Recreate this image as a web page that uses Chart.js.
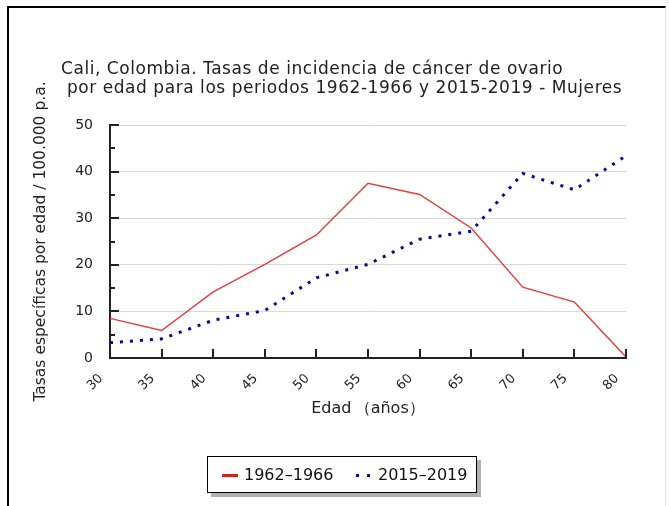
<!DOCTYPE html>
<html>
<head>
<meta charset="utf-8">
<script src="https://cdn.jsdelivr.net/npm/chart.js@4.4.1/dist/chart.umd.min.js"></script>
<style>
  html, body { margin: 0; padding: 0; background: #fff; }
  body { width: 669px; height: 506px; position: relative; overflow: hidden; font-family: "DejaVu Sans", sans-serif; }
  #frame { position: absolute; left: 7px; top: 6px; width: 656px; height: 510px;
           border-left: 2px solid #000; border-top: 2px solid #000; border-right: 1px solid #e4e4e4; }
  #wrap { position: absolute; left: 0; top: 0; width: 669px; height: 506px; }
  #title { position: absolute; left: 61px; top: 59px; font-size: 17px; letter-spacing: 0.55px; line-height: 19px; color: #222; white-space: pre; }
  #legend { position: absolute; left: 207px; top: 456px; width: 268px; height: 35px; border: 1px solid #000;
            box-shadow: 4px 4px 0 #b0b0b0; background: #fff; }
  .li { position: absolute; top: 8px; font-size: 16px; line-height: 19px; color: #111; white-space: pre; }
  .red { position: absolute; width: 16px; height: 3px; background: #d42020; }
  .dot { position: absolute; width: 3px; height: 3px; background: #0a0a8c; }
</style>
</head>
<body>
<div id="frame"></div>
<div id="wrap"><canvas id="c" width="669" height="506"></canvas></div>
<div id="title"></div>
<div id="legend"></div>
<script>
const titleLines = ["Cali, Colombia. Tasas de incidencia de cáncer de ovario", " por edad para los periodos 1962-1966 y 2015-2019 - Mujeres"];
const categories = ["30", "35", "40", "45", "50", "55", "60", "65", "70", "75", "80"];
const series1962 = [8.5, 5.9, 14.2, 20.1, 26.4, 37.5, 35.1, 27.9, 15.2, 12.0, 0.2];
const series2015 = [3.3, 4.1, 8.1, 10.2, 17.2, 20.1, 25.5, 27.2, 39.6, 36.1, 43.4];
const seriesLabels = ["1962–1966", "2015–2019"];
const yTickValues = [0, 10, 20, 30, 40, 50];
const xTitle = "Edad\u2009（años）";
const yTitle = "Tasas específicas por edad / 100.000 p.a.";

document.getElementById('title').textContent = titleLines.join("\n");

const tickMarks = {
  id: 'tickMarks',
  afterDraw(chart) {
    const ctx = chart.ctx;
    const xs = chart.scales.x, ys = chart.scales.y;
    const area = chart.chartArea;
    ctx.save();
    ctx.strokeStyle = '#222';
    ctx.lineWidth = 2;
    ctx.beginPath();
    xs.ticks.forEach((t, i) => {
      const px = Math.round(xs.getPixelForTick(i));
      ctx.moveTo(px, area.bottom);
      ctx.lineTo(px, area.bottom - 9);
    });
    ys.ticks.forEach((t, i) => {
      const py = Math.round(ys.getPixelForTick(i));
      const len = (t.value % 10 === 0) ? 9 : 5;
      ctx.moveTo(area.left, py);
      ctx.lineTo(area.left + len, py);
    });
    ctx.stroke();
    ctx.restore();
  }
};

const chart = new Chart(document.getElementById('c'), {
  type: 'line',
  data: {
    labels: categories,
    datasets: [
      { label: seriesLabels[0], data: series1962, borderColor: '#e3403e', borderWidth: 1.5,
        pointRadius: 0, tension: 0, fill: false },
      { label: seriesLabels[1], data: series2015, borderColor: '#0a0a8c', borderWidth: 3,
        borderDash: [3, 7], borderCapStyle: 'butt', pointRadius: 0, tension: 0, fill: false }
    ]
  },
  options: {
    responsive: false,
    animation: false,
    devicePixelRatio: 1,
    layout: { padding: { left: 32, right: 43, top: 125, bottom: 48 } },
    plugins: { legend: { display: false }, title: { display: false }, tooltip: { enabled: false } },
    scales: {
      x: {
        type: 'category',
        offset: false,
        grid: { display: false, drawTicks: false },
        border: { display: true, color: '#222', width: 2 },
        ticks: { color: '#222', font: { family: 'DejaVu Sans', size: 13 }, minRotation: 45, maxRotation: 45, padding: 13, labelOffset: -9 },
        title: { display: true, text: xTitle, color: '#222', font: { family: 'DejaVu Sans', size: 16 }, padding: { top: 0, bottom: 40 } },
        afterFit(s) { s.height = 100; }
      },
      y: {
        min: 0, max: 50,
        ticks: { stepSize: 5, color: '#222', font: { family: 'DejaVu Sans', size: 14 }, padding: 17,
                 callback: (v) => yTickValues.includes(v) ? String(v) : '' },
        grid: { drawTicks: false, lineWidth: 1,
                color: (c) => (c.tick && c.tick.value % 10 === 0 && c.tick.value > 0) ? '#d9d9d9' : 'rgba(0,0,0,0)' },
        border: { display: true, color: '#222', width: 2 },
        title: { display: true, text: yTitle, color: '#222', font: { family: 'DejaVu Sans', size: 15.5 }, padding: 0 },
        afterFit(s) { s.width = 78; }
      }
    }
  },
  plugins: [tickMarks]
});

// HTML legend built from the datasets
const legend = document.getElementById('legend');
const r = document.createElement('div'); r.className = 'red'; r.style.left = '14px'; r.style.top = '17px'; legend.appendChild(r);
const t1 = document.createElement('div'); t1.className = 'li'; t1.style.left = '36px'; t1.textContent = chart.data.datasets[0].label; legend.appendChild(t1);
[148, 159].forEach(x => { const d = document.createElement('div'); d.className = 'dot'; d.style.left = x + 'px'; d.style.top = '17px'; legend.appendChild(d); });
const t2 = document.createElement('div'); t2.className = 'li'; t2.style.left = '170px'; t2.textContent = chart.data.datasets[1].label; legend.appendChild(t2);
</script>
</body>
</html>
